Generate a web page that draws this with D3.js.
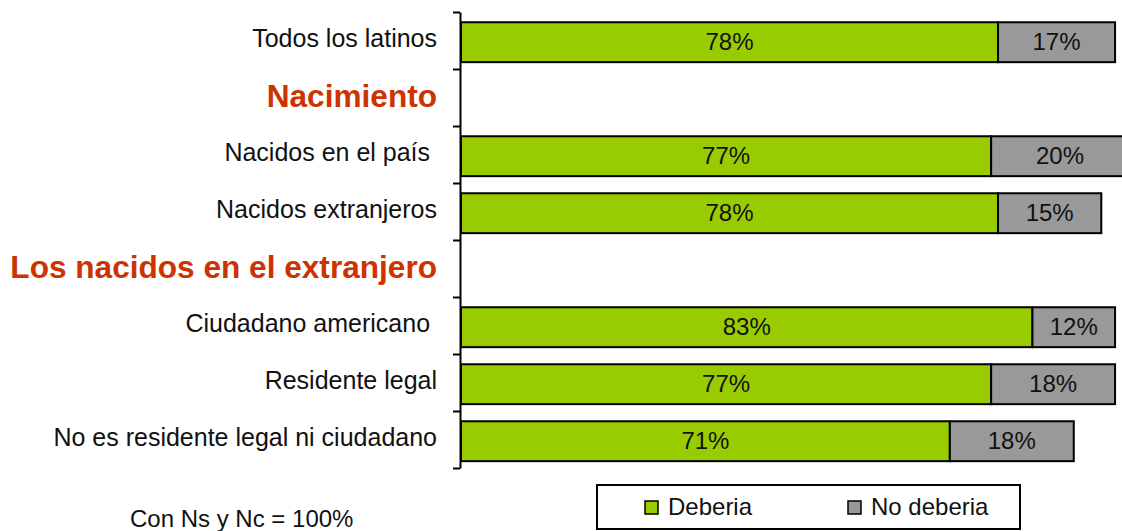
<!DOCTYPE html>
<html>
<head>
<meta charset="utf-8">
<script src="https://cdn.jsdelivr.net/npm/d3@7"></script>
<style>
  html, body { margin: 0; padding: 0; background: #fff; }
  svg { display: block; font-family: "Liberation Sans", Arial, sans-serif; }
</style>
</head>
<body>
<div id="chart"></div>
<script>
// Rows top to bottom. Header rows carry no bars.
const categories = [
  'Todos los latinos',
  'Nacimiento',
  'Nacidos en el país ',
  'Nacidos extranjeros',
  'Los nacidos en el extranjero',
  'Ciudadano americano ',
  'Residente legal',
  'No es residente legal ni ciudadano'
];
const isHeader = [false, true, false, false, true, false, false, false];
const deberia   = [78, null, 77, 78, null, 83, 77, 71];
const noDeberia = [17, null, 20, 15, null, 12, 18, 18];
const seriesNames = ['Deberia', 'No deberia'];
const note = 'Con Ns y Nc = 100%';

const W = 1122, H = 531;
const GREEN = '#99cc00', GREY = '#999999', HEAD = '#cc3300', INK = '#111';
const AXIS_X = 460, TOP = 12, BOTTOM = 468;

const svg = d3.select('#chart').append('svg')
  .attr('width', W).attr('height', H).attr('viewBox', `0 0 ${W} ${H}`);

const y = d3.scaleBand().domain(d3.range(categories.length))
  .range([TOP, BOTTOM]).paddingInner(0.3).paddingOuter(0.15).align(0.6);
const x = d3.scaleLinear().domain([0, 100]).range([AXIS_X + 1, AXIS_X + 1 + 688.5]);
// tick marks sit on category boundaries, as in the source chart
const yEdge = d3.scaleLinear().domain([0, categories.length]).range([TOP, BOTTOM]);

// bars
const rows = categories.map((c, i) => ({ i, d: deberia[i], n: noDeberia[i] }))
  .filter((r) => !isHeader[r.i]);

const seg = svg.append('g');
rows.forEach((r) => {
  const parts = [
    { x0: 0, x1: r.d, fill: GREEN },
    { x0: r.d, x1: r.d + r.n, fill: GREY }
  ];
  parts.forEach((p) => {
    seg.append('rect')
      .attr('x', x(p.x0)).attr('y', y(r.i))
      .attr('width', x(p.x1) - x(p.x0)).attr('height', y.bandwidth())
      .attr('fill', p.fill).attr('stroke', '#000').attr('stroke-width', 2);
    seg.append('text')
      .attr('x', (x(p.x0) + x(p.x1)) / 2).attr('y', y(r.i) + y.bandwidth() / 2 + 7.5)
      .attr('text-anchor', 'middle').attr('font-size', 24).attr('fill', INK)
      .text(`${p.x1 - p.x0}%`);
  });
});

// axis
svg.append('g').attr('transform', `translate(${AXIS_X},0)`)
  .call(d3.axisLeft(yEdge).tickValues(d3.range(categories.length + 1))
    .tickSize(7).tickSizeOuter(0).tickFormat(''))
  .call((g) => g.selectAll('line,path').attr('stroke', '#000').attr('stroke-width', 2));

// category labels
svg.append('g').selectAll('text').data(categories).join('text')
  .attr('x', 437)
  .attr('y', (d, i) => y(i) + y.bandwidth() / 2 + (isHeader[i] ? 8 : 5))
  .attr('text-anchor', 'end')
  .style('white-space', 'pre')
  .attr('font-size', (d, i) => (isHeader[i] ? 31.6 : 25))
  .attr('font-weight', (d, i) => (isHeader[i] ? 'bold' : 'normal'))
  .attr('fill', (d, i) => (isHeader[i] ? HEAD : INK))
  .text((d) => d);

// legend
const lg = svg.append('g');
lg.append('rect').attr('x', 597).attr('y', 485).attr('width', 423).attr('height', 44)
  .attr('fill', '#fff').attr('stroke', '#000').attr('stroke-width', 2);
const legX = [645, 848];
seriesNames.forEach((name, k) => {
  lg.append('rect').attr('x', legX[k]).attr('y', 501).attr('width', 13).attr('height', 13)
    .attr('fill', k === 0 ? GREEN : GREY).attr('stroke', '#000').attr('stroke-width', 1.5);
  lg.append('text').attr('x', legX[k] + 23).attr('y', 515)
    .attr('font-size', 24).attr('fill', INK).text(name);
});

// note
svg.append('text').attr('x', 130).attr('y', 527).attr('font-size', 24).attr('fill', INK).text(note);
</script>
</body>
</html>
